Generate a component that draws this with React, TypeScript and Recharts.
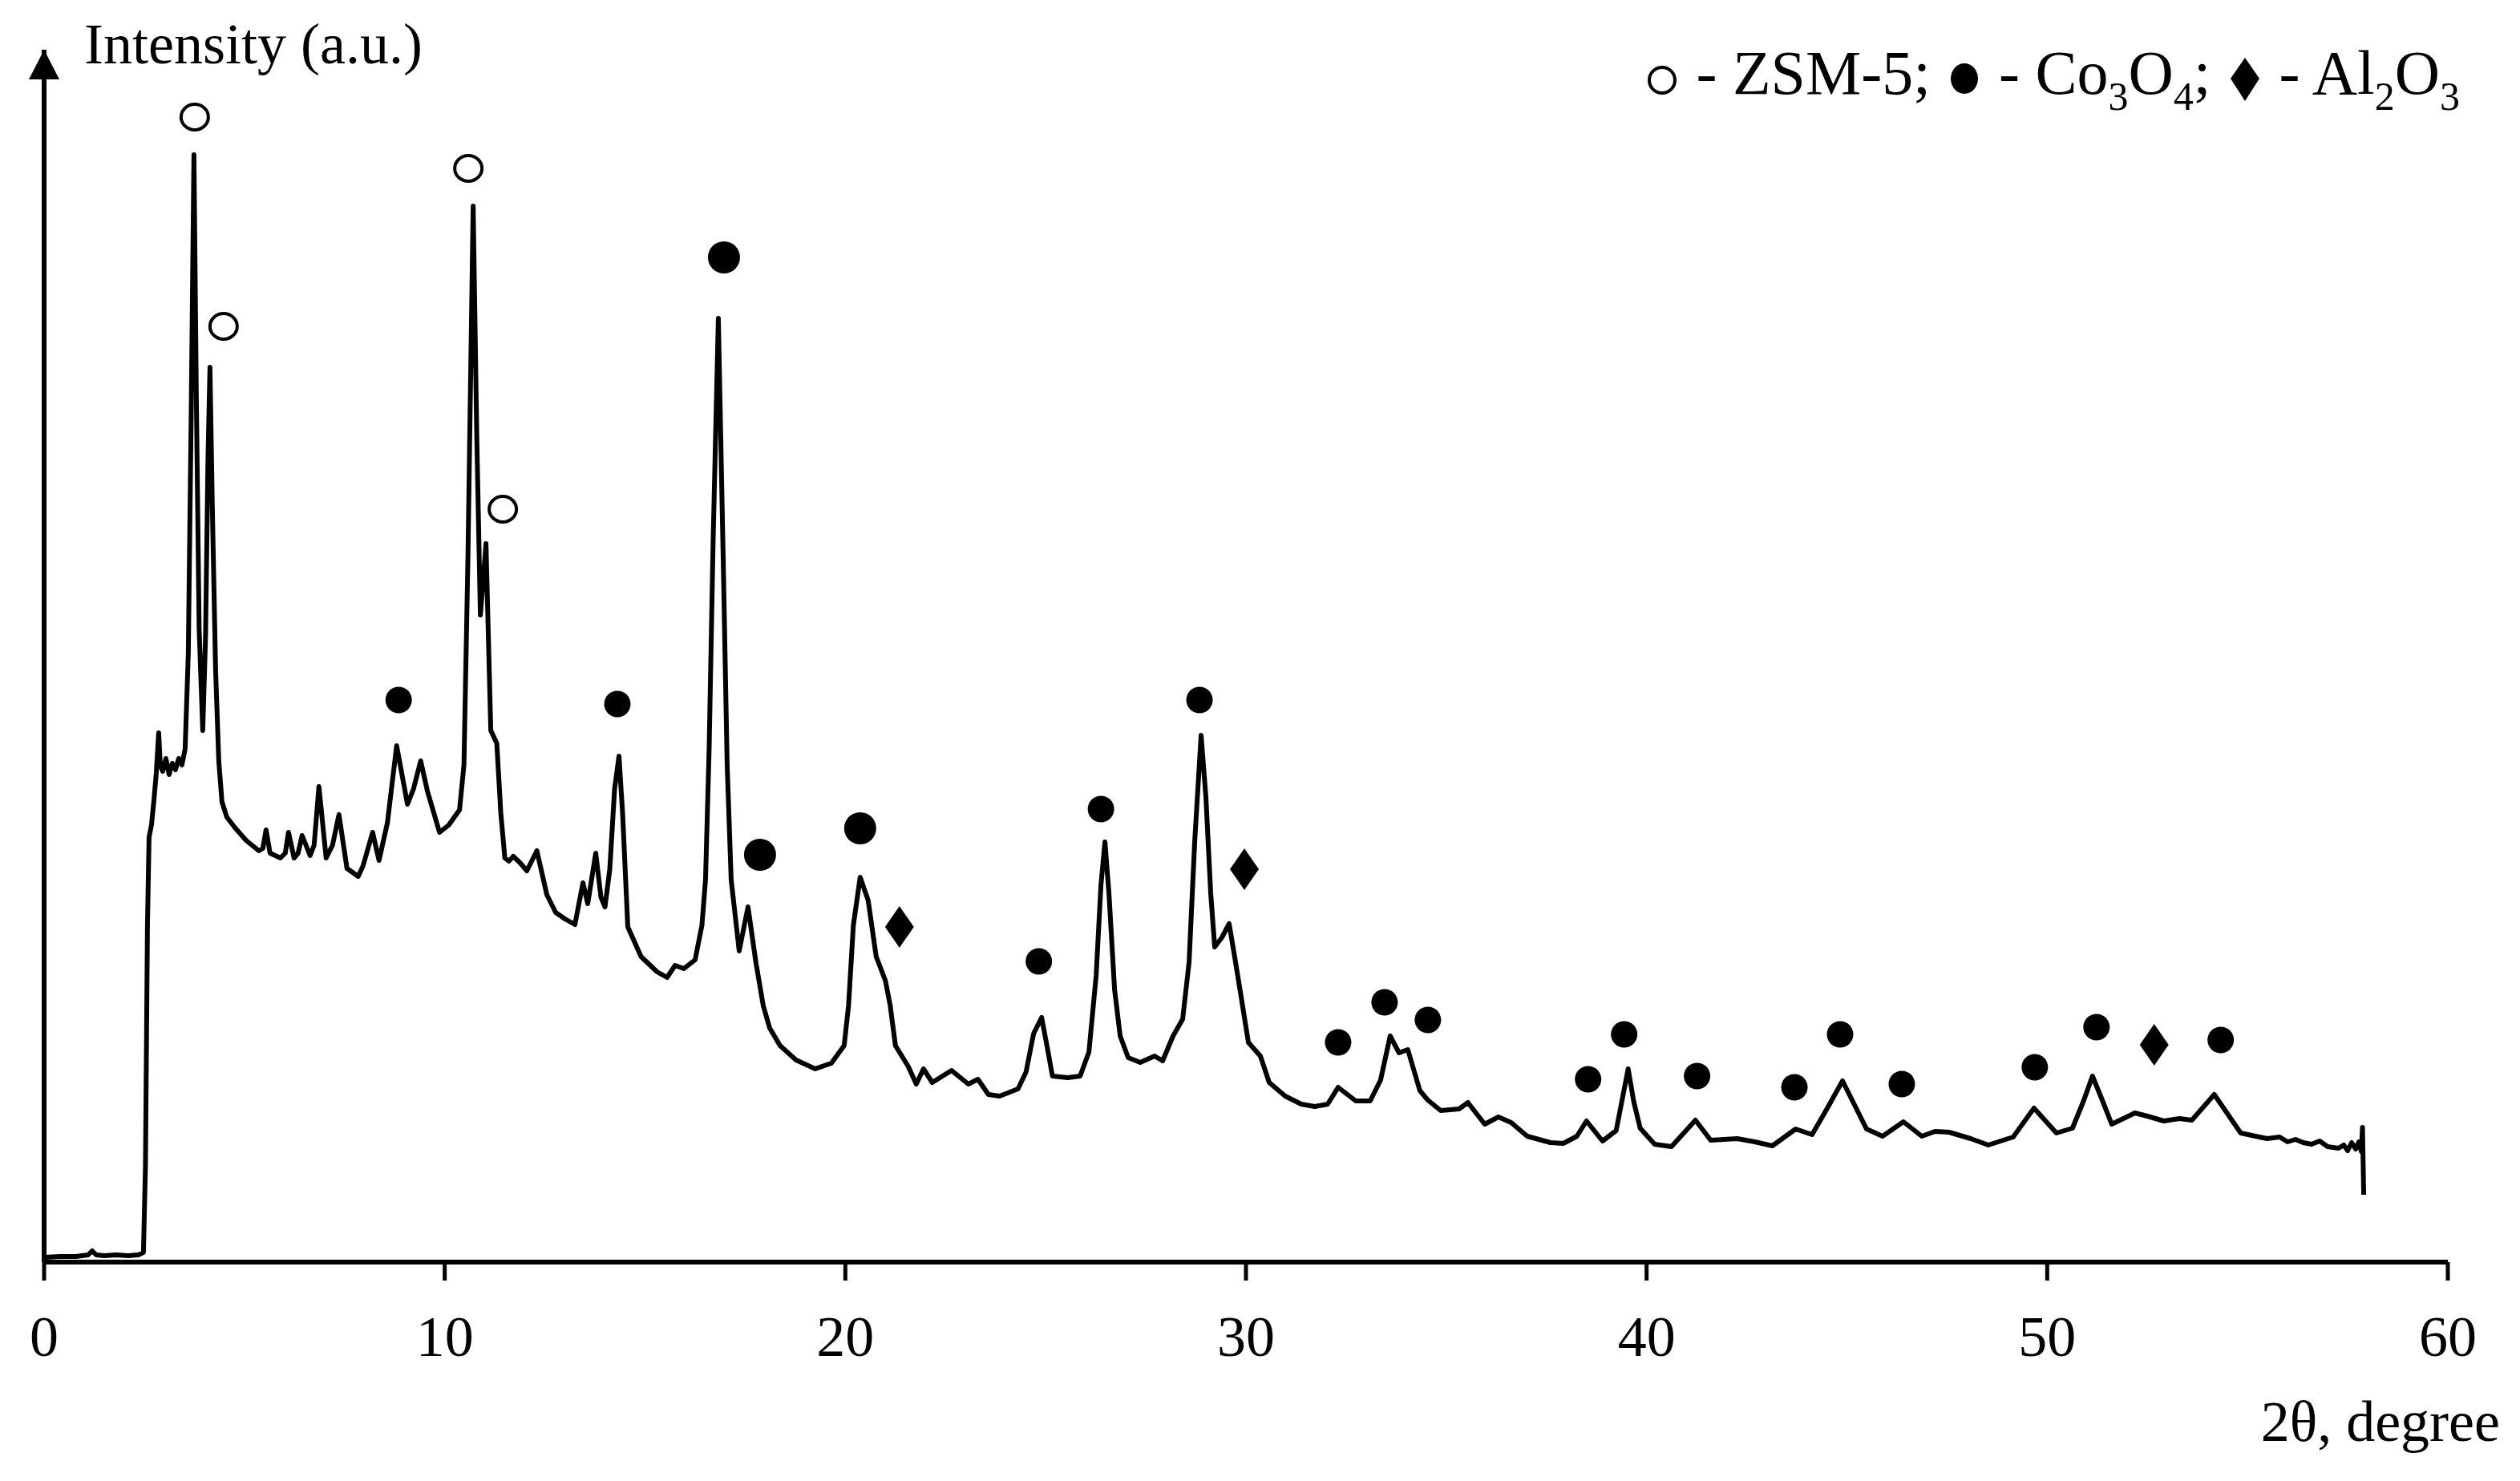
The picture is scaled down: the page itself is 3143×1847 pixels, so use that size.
import { ComposedChart, Line, Scatter, XAxis, YAxis, ReferenceLine, ReferenceDot } from "recharts"

const FONT = '"Liberation Serif", "Times New Roman", serif'

// 2θ (degree), intensity (a.u.)
const scan: [number, number][] = [
    [0, 6], [0.4, 7], [0.8, 7], [1.1, 9], [1.2, 14], [1.3, 9], [1.5, 8], [1.8, 9], [2.1, 8], [2.35, 9], [2.48, 12],
    [2.53, 120], [2.58, 420], [2.62, 530], [2.68, 545], [2.74, 575], [2.8, 610], [2.86, 660], [2.9, 620], [2.96, 612],
    [3.04, 628], [3.12, 608], [3.2, 622], [3.28, 614], [3.36, 628], [3.44, 620], [3.52, 640],
    [3.6, 760], [3.67, 1050], [3.74, 1381], [3.8, 1080], [3.87, 790], [3.96, 663], [4.03, 780], [4.09, 1000], [4.14, 1116],
    [4.2, 940], [4.28, 740], [4.36, 625], [4.44, 574], [4.56, 555], [4.76, 542], [5.04, 526], [5.36, 513], [5.46, 516],
    [5.54, 539], [5.64, 510], [5.9, 504], [6.02, 510], [6.1, 536], [6.24, 504], [6.34, 510], [6.44, 532], [6.64, 507],
    [6.74, 520], [6.86, 593], [7.04, 504], [7.2, 520], [7.36, 558], [7.56, 491], [7.84, 481], [7.96, 494], [8.2, 536],
    [8.36, 501], [8.57, 548], [8.8, 644], [9.07, 571], [9.22, 590], [9.4, 625], [9.57, 587], [9.87, 536], [10.1, 545],
    [10.37, 564], [10.48, 620], [10.58, 880], [10.71, 1317], [10.8, 1030], [10.89, 807], [10.96, 850], [11.03, 896],
    [11.1, 760], [11.15, 663], [11.3, 647], [11.4, 560], [11.5, 504], [11.6, 500], [11.71, 506], [11.88, 498], [12.05, 488],
    [12.3, 513], [12.55, 458], [12.77, 436], [13.0, 428], [13.25, 421], [13.45, 473], [13.57, 447], [13.77, 510], [13.9, 455],
    [14.0, 443], [14.12, 490], [14.24, 590], [14.35, 631], [14.44, 560], [14.57, 418], [14.9, 381], [15.3, 362], [15.55, 355],
    [15.75, 370], [15.97, 366], [16.25, 377], [16.42, 420], [16.51, 477], [16.6, 640], [16.7, 900], [16.83, 1177],
    [16.95, 880], [17.05, 620], [17.15, 477], [17.35, 388], [17.57, 443], [17.77, 373], [17.95, 320], [18.11, 292],
    [18.37, 270], [18.77, 252], [19.25, 241], [19.65, 248], [19.97, 270], [20.08, 320], [20.2, 420], [20.37, 480],
    [20.57, 451], [20.77, 381], [21.0, 351], [21.12, 320], [21.25, 270], [21.57, 244], [21.77, 222], [21.95, 241],
    [22.17, 224], [22.65, 239], [23.07, 222], [23.31, 228], [23.57, 209], [23.85, 207], [24.31, 216], [24.51, 237],
    [24.7, 285], [24.9, 305], [25.05, 265], [25.17, 232], [25.55, 230], [25.86, 232], [26.08, 262], [26.26, 357],
    [26.38, 470], [26.48, 524], [26.58, 460], [26.72, 340], [26.86, 282], [27.06, 255], [27.36, 249], [27.72, 257],
    [27.92, 251], [28.18, 282], [28.42, 303], [28.58, 374], [28.72, 524], [28.88, 657], [29.0, 580], [29.12, 460],
    [29.22, 393], [29.4, 405], [29.58, 422], [29.72, 380], [29.86, 337], [30.06, 274], [30.36, 257], [30.58, 224],
    [30.98, 207], [31.38, 197], [31.72, 194], [32.04, 197], [32.3, 218], [32.74, 201], [33.1, 201], [33.36, 227],
    [33.6, 282], [33.82, 261], [34.04, 265], [34.34, 214], [34.54, 202], [34.86, 189], [35.32, 191], [35.54, 199],
    [35.96, 172], [36.3, 181], [36.62, 174], [37.02, 157], [37.6, 149], [37.92, 148], [38.26, 157], [38.5, 176],
    [38.9, 151], [39.24, 164], [39.4, 205], [39.54, 241], [39.68, 200], [39.84, 167], [40.2, 147], [40.62, 144],
    [41.22, 177], [41.6, 152], [42.26, 154], [42.7, 150], [43.14, 145], [43.72, 166], [44.13, 159], [44.5, 191],
    [44.89, 226], [45.2, 195], [45.49, 166], [45.89, 157], [46.41, 175], [46.87, 157], [47.2, 163], [47.55, 162],
    [48.09, 154], [48.53, 146], [49.15, 156], [49.67, 192], [50.23, 161], [50.63, 167], [50.9, 200], [51.13, 232],
    [51.35, 205], [51.61, 172], [52.19, 186], [52.5, 182], [52.91, 176], [53.3, 179], [53.61, 177], [54.17, 209],
    [54.5, 185], [54.83, 161], [55.2, 157], [55.49, 154], [55.8, 156], [56.0, 150], [56.2, 153], [56.39, 149],
    [56.6, 147], [56.8, 151], [57.0, 144], [57.27, 142], [57.4, 146], [57.5, 139], [57.6, 149], [57.7, 141],
    [57.78, 150], [57.84, 138], [57.87, 168], [57.9, 84],
]

// phase marks: [2θ, height of the mark]
const zsm5Peaks: [number, number][] = [[3.76, 1428], [4.48, 1167], [10.59, 1364], [11.45, 939]]
const co3o4Peaks: [number, number][] = [
    [8.85, 701], [14.31, 696], [24.83, 375], [26.38, 565], [28.84, 701], [32.3, 274], [33.46, 324], [34.54, 302],
    [38.54, 228], [39.44, 284], [41.26, 232], [43.69, 218], [44.83, 284], [46.37, 222], [49.69, 243], [51.23, 293],
    [54.33, 277],
]
const co3o4StrongPeaks: [number, number][] = [[16.97, 1253], [17.87, 508], [20.37, 541]]
const al2o3Peaks: [number, number][] = [[21.35, 418], [29.96, 490], [52.67, 271]]

const xTicks = [0, 10, 20, 30, 40, 50, 60]
const Y_MAX = 1512

const toPoints = (arr: [number, number][]) => arr.map(([x, y]) => ({ x, y }))

const OpenCircle = (p: any) => (
    <ellipse cx={p.cx} cy={p.cy} rx={17} ry={16} fill="none" stroke="#000" strokeWidth={4} />
)
const Dot = (p: any) => <circle cx={p.cx} cy={p.cy} r={16.5} fill="#000" />
const BigDot = (p: any) => <circle cx={p.cx} cy={p.cy} r={20} fill="#000" />
const Diamond = (p: any) => (
    <polygon points={`${p.cx},${p.cy - 26} ${p.cx + 18},${p.cy} ${p.cx},${p.cy + 26} ${p.cx - 18},${p.cy}`} fill="#000" />
)

const AxisArrow = (p: any) => (
    <g>
        <polygon points={`${p.cx},${p.cy} ${p.cx - 19},${p.cy + 37} ${p.cx + 19},${p.cy + 37}`} fill="#000" />
        <text x={p.cx + 50} y={p.cy + 17} fontSize={72} fontFamily={FONT} fill="#000">Intensity (a.u.)</text>
    </g>
)

const XTitle = (p: any) => {
    const vb = p.viewBox
    return (
        <text x={vb.x + vb.width + 65} y={vb.y + 223} textAnchor="end" fontSize={72} fontFamily={FONT} fill="#000">
            2θ, degree
        </text>
    )
}

const LegendMark = ({ kind }: { kind: string }) => (
    <svg width={42} height={58} style={{ verticalAlign: "-12px", margin: "0 2px" }}>
        {kind === "open" && <ellipse cx={21} cy={29} rx={16} ry={16} fill="none" stroke="#000" strokeWidth={4} />}
        {kind === "dot" && <ellipse cx={21} cy={27} rx={17} ry={19} fill="#000" />}
        {kind === "diamond" && <polygon points="21,1 39,27 21,55 3,27" fill="#000" />}
    </svg>
)

const subStyle = { fontSize: 50, verticalAlign: "-20px" }

export default function App() {
    return (
        <div style={{ position: "relative", width: 3143, height: 1847, background: "#fff" }}>
            <style>{"body{margin:0}"}</style>
            <ComposedChart width={3143} height={1847} margin={{ top: 62, right: 90, bottom: 0, left: 55 }}>
                <XAxis
                    type="number"
                    dataKey="x"
                    domain={[0, 60]}
                    ticks={xTicks}
                    interval={0}
                    height={273}
                    axisLine={{ stroke: "#000", strokeWidth: 6 }}
                    tickLine={{ stroke: "#000", strokeWidth: 5 }}
                    tickSize={23}
                    tickMargin={43}
                    tick={{ fill: "#000", fontSize: 72, fontFamily: FONT }}
                    label={XTitle}
                />
                <YAxis type="number" dataKey="y" domain={[0, Y_MAX]} hide width={0} />
                <ReferenceLine x={0} stroke="#000" strokeWidth={6} />
                <ReferenceDot x={0} y={Y_MAX} r={0} shape={AxisArrow} />
                <Line
                    data={toPoints(scan)}
                    dataKey="y"
                    type="linear"
                    stroke="#000"
                    strokeWidth={6}
                    strokeLinejoin="round"
                    dot={false}
                    activeDot={false}
                    isAnimationActive={false}
                />
                <Scatter data={toPoints(zsm5Peaks)} dataKey="y" shape={OpenCircle} isAnimationActive={false} />
                <Scatter data={toPoints(co3o4Peaks)} dataKey="y" shape={Dot} isAnimationActive={false} />
                <Scatter data={toPoints(co3o4StrongPeaks)} dataKey="y" shape={BigDot} isAnimationActive={false} />
                <Scatter data={toPoints(al2o3Peaks)} dataKey="y" shape={Diamond} isAnimationActive={false} />
            </ComposedChart>
            <div
                style={{
                    position: "absolute",
                    right: 75,
                    top: 51,
                    fontFamily: FONT,
                    fontSize: 78,
                    lineHeight: "80px",
                    whiteSpace: "nowrap",
                    color: "#000",
                }}
            >
                <LegendMark kind="open" />
                {" - ZSM-5; "}
                <LegendMark kind="dot" />
                {" - Co"}<span style={subStyle}>3</span>{"O"}<span style={subStyle}>4</span>{"; "}
                <LegendMark kind="diamond" />
                {" - Al"}<span style={subStyle}>2</span>{"O"}<span style={subStyle}>3</span>
            </div>
        </div>
    )
}
